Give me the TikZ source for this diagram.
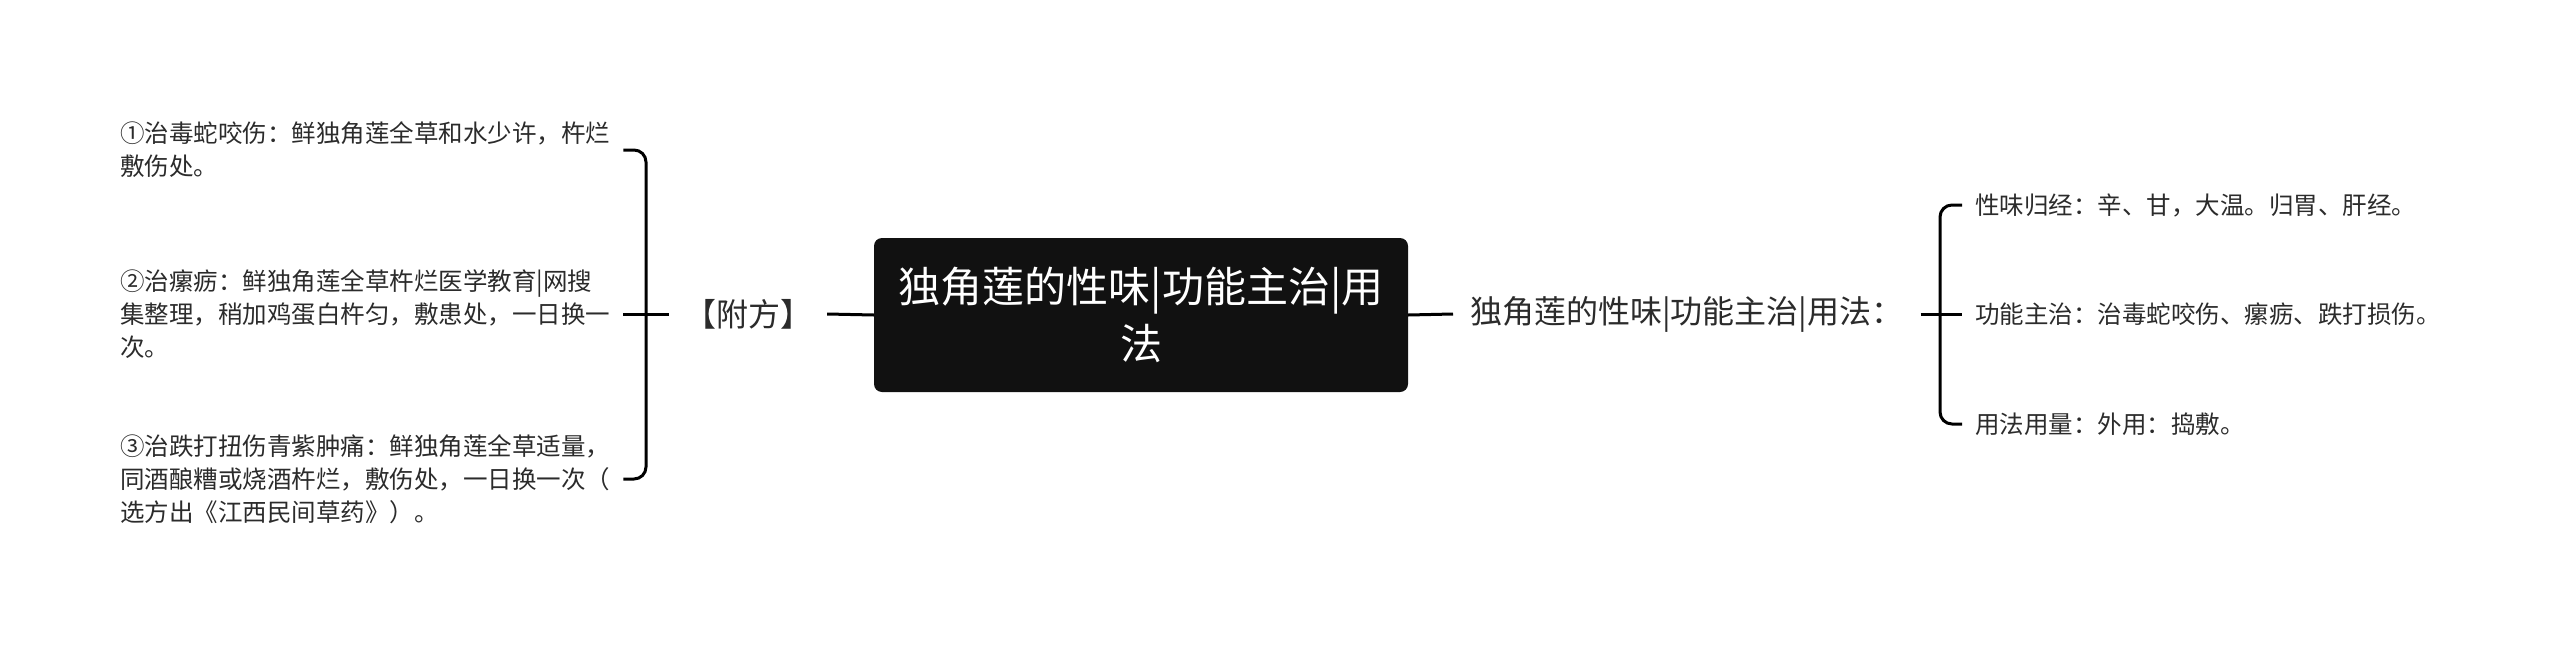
\documentclass[tikz,border=0pt]{standalone}
\usepackage{fontspec}
\newfontfamily\cjk{Noto Sans CJK SC}
\usepackage{tikz}
\usetikzlibrary{calc}
\definecolor{rootfill}{HTML}{111111}
\definecolor{ink}{HTML}{2B2B2B}
\tikzset{
  link/.style={line width=3pt, black},
  rootbox/.style={fill=rootfill, rounded corners=8pt, minimum width=534pt, minimum height=154pt,
    text=white, align=center, inner sep=0pt, font=\cjk\fontsize{42}{57}\selectfont},
  topic/.style={text=ink, inner ysep=0pt, font=\cjk\fontsize{32}{36}\selectfont},
  leaf/.style={text=ink, inner ysep=0pt, align=left, font=\cjk\fontsize{24.5}{33}\selectfont},
  leafL/.style={leaf, anchor=west, text width=493pt, inner xsep=10pt},
  leafR/.style={leaf, anchor=west, inner xsep=13pt}
}

\begin{document}
\begin{tikzpicture}[x=1pt, y=-1pt, line cap=butt]
	\useasboundingbox (0,0) rectangle (2560,645);
	\def\rootx{1141}
	\def\midy{314}

	\coordinate (LB) at (646,\midy);
	\coordinate (RB) at (1940,\midy);

	% centre
	\node[rootbox] (R) at (\rootx,315) {独角莲的性味|功能主治|用\\法};

	% left branch
	\node[topic, inner xsep=15pt] (F) at (748,\midy) {【附方】};
	\node[leafL] (F1) at (110,150) {①治毒蛇咬伤：鲜独角莲全草和水少许，杵烂\\敷伤处。};
	\node[leafL] (F2) at (110,\midy) {②治瘰疬：鲜独角莲全草杵烂医学教育|网搜\\集整理，稍加鸡蛋白杵匀，敷患处，一日换一\\次。};
	\node[leafL] (F3) at (110,479) {③治跌打扭伤青紫肿痛：鲜独角莲全草适量，\\同酒酿糟或烧酒杵烂，敷伤处，一日换一次（\\选方出《江西民间草药》）。};

	% right branch
	\node[topic, anchor=west, inner xsep=17pt] (U) at (1453,\midy) {独角莲的性味|功能主治|用法：};
	\node[leafR] (U1) at (1962,205) {性味归经：辛、甘，大温。归胃、肝经。};
	\node[leafR] (U2) at (1962,\midy) {功能主治：治毒蛇咬伤、瘰疬、跌打损伤。};
	\node[leafR] (U3) at (1962,424) {用法用量：外用：捣敷。};

	\draw[link] (R.west) -- (F.east);
	\draw[link] (F.west) -- (F2.east);
	\draw[link, rounded corners=12pt] (F1.east) -| (LB) |- (F3.east);

	\draw[link] (R.east) -- (U.west);
	\draw[link] (U.east) -- (U2.west);
	\draw[link, rounded corners=12pt] (U1.west) -| (RB) |- (U3.west);
\end{tikzpicture}
\end{document}
